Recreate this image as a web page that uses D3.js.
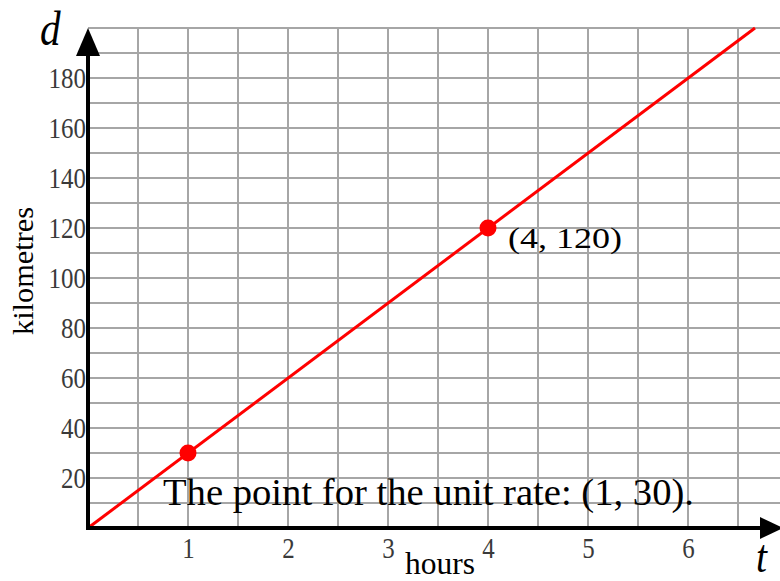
<!DOCTYPE html>
<html>
<head>
<meta charset="utf-8">
<script src="https://cdn.jsdelivr.net/npm/d3@7"></script>
<style>
  html, body { margin: 0; padding: 0; background: #ffffff; }
  svg { display: block; }
  svg text { font-family: "Times New Roman", "Liberation Serif", Times, serif; }
</style>
</head>
<body>
<svg id="chart" width="780" height="581"></svg>
<script>
// ---- data ----
const xTicks = [1, 2, 3, 4, 5, 6];
const yTicks = [20, 40, 60, 80, 100, 120, 140, 160, 180];
const lineT = [0, 6.67];
const lineD = [0, 200];
const pointT = [1, 4];
const pointD = [30, 120];
const pointLabel = "(4, 120)";
const noteText = "The point for the unit rate: (1, 30).";
const xTitle = "hours";
const yTitle = "kilometres";
const xVar = "t";
const yVar = "d";

const FONT = "'Times New Roman', 'Liberation Serif', Times, serif";
const svg = d3.select("#chart");
const x = d3.scaleLinear().domain([0, 6.92]).range([88, 780]);
const y = d3.scaleLinear().domain([0, 200]).range([528, 28]);
const SX = 0.86;

// grid
const vGrid = d3.range(1, 15).map(i => i * 0.5);
const hGrid = d3.range(1, 21).map(i => i * 10);
const grid = svg.append("g").attr("stroke", "#a6a6a6").attr("stroke-width", 2);
grid.selectAll("line.v").data(vGrid).join("line")
  .attr("x1", d => x(d)).attr("x2", d => x(d))
  .attr("y1", y(0)).attr("y2", y(200) - 1);
grid.selectAll("line.h").data(hGrid).join("line")
  .attr("x1", x(0)).attr("x2", 780)
  .attr("y1", d => y(d)).attr("y2", d => y(d));

// red line
const line = d3.line().x(d => x(d[0])).y(d => y(d[1]));
svg.append("path")
  .datum(lineT.map((t, i) => [t, lineD[i]]))
  .attr("d", line)
  .attr("fill", "none").attr("stroke", "#ff0000").attr("stroke-width", 3);

// axes lines
svg.append("line").attr("x1", x(0)).attr("x2", 766).attr("y1", y(0)).attr("y2", y(0))
  .attr("stroke", "#000").attr("stroke-width", 4);
svg.append("line").attr("x1", x(0)).attr("x2", x(0)).attr("y1", y(0) + 2).attr("y2", 50)
  .attr("stroke", "#000").attr("stroke-width", 4);
// arrowheads
svg.append("path").attr("d", `M${x(0)},28 L${x(0) - 12},56 L${x(0) + 12},56 Z`).attr("fill", "#000");
svg.append("path").attr("d", `M783,${y(0)} L760,${y(0) - 11} L760,${y(0) + 11} Z`).attr("fill", "#000");

// tick labels via axes
const xAxis = svg.append("g").attr("transform", `translate(0,${y(0)})`)
  .call(d3.axisBottom(x).tickValues(xTicks).tickSize(0).tickPadding(0).tickFormat(d3.format("d")));
xAxis.attr("font-family", FONT);
xAxis.select(".domain").remove();
xAxis.selectAll("text")
  .attr("y", 30).attr("dy", null)
  .attr("font-size", 29).attr("fill", "#3a3a3a")
  .attr("transform", `scale(${SX},1)`);

const yAxis = svg.append("g").attr("transform", `translate(${x(0)},0)`)
  .call(d3.axisLeft(y).tickValues(yTicks).tickSize(0).tickPadding(0).tickFormat(d3.format("d")));
yAxis.attr("font-family", FONT);
yAxis.select(".domain").remove();
yAxis.selectAll("text")
  .attr("x", -2 / SX).attr("dy", null).attr("y", 9)
  .attr("font-size", 29).attr("fill", "#3a3a3a")
  .attr("transform", `scale(${SX},1)`);

// points
svg.selectAll("circle.pt").data(pointT.map((t, i) => [t, pointD[i]])).join("circle")
  .attr("cx", d => x(d[0])).attr("cy", d => y(d[1])).attr("r", 8.5)
  .attr("fill", "#ff0000");

// helper for compressed text
function label(txt, px, py, size, opts = {}) {
  const t = svg.append("text")
    .attr("transform", `translate(${px},${py}) scale(${opts.sx || SX},1)`)
    .attr("font-family", FONT)
    .attr("font-size", size)
    .attr("fill", opts.fill || "#000")
    .attr("text-anchor", opts.anchor || "start")
    .attr("font-style", opts.italic ? "italic" : "normal")
    .text(txt);
  if (opts.len) t.attr("textLength", opts.len / (opts.sx || SX)).attr("lengthAdjust", "spacingAndGlyphs");
  return t;
}

label(pointLabel, 508, 248, 29, { len: 114 });
label(noteText, 163, 505, 37, { len: 531 });
label(xTitle, 405, 574, 32, { len: 70 });
svg.append("text")
  .attr("transform", `translate(33,271) rotate(-90)`)
  .attr("font-family", FONT)
  .attr("font-size", 29).attr("text-anchor", "middle")
  .attr("textLength", 128).attr("lengthAdjust", "spacingAndGlyphs")
  .text(yTitle);
label(yVar, 40, 45, 48, { italic: true });
label(xVar, 756, 572, 46, { italic: true });
</script>
</body>
</html>
